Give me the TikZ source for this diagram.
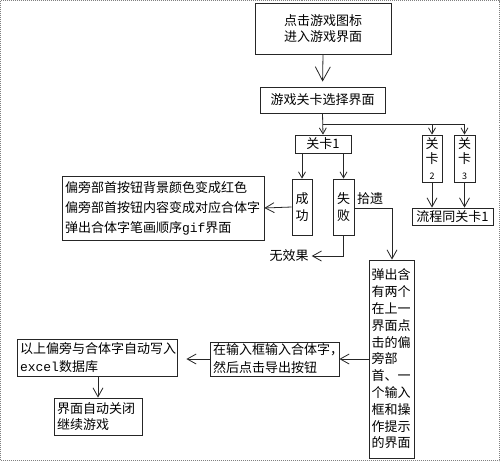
\documentclass[tikz,border=0pt]{standalone}
\usepackage{fontspec}
\setmainfont{Noto Sans CJK SC}
\newfontfamily\mono{Liberation Mono}
\usetikzlibrary{arrows.meta}
\begin{document}
\begin{tikzpicture}[x=1pt,y=-1pt,
  font=\fontsize{13}{16}\selectfont,
  ln/.style={draw=black!85,line width=0.8pt},
  box/.style={ln,inner sep=2pt,align=center},
  lbox/.style={ln,inner xsep=3pt,inner ysep=1pt,align=left},
  arr/.style={ln,-{Straight Barb[length=6pt,width=7pt]}},
  arrm/.style={ln,-{Straight Barb[length=9pt,width=10pt]}},
  arrb/.style={ln,-{Straight Barb[length=14pt,width=15pt]}}]
\useasboundingbox (0,0) rectangle (500,461);
\draw[gray,line width=0.8pt,dash pattern=on 1pt off 1pt] (0.5,0.5) rectangle (499.5,460.5);

\node[box,minimum width=136pt,minimum height=51pt] (b1) at (323,28.5) {点击游戏图标\\进入游戏界面};
\node[box,minimum width=125pt,minimum height=26pt] (b2) at (322.5,100) {游戏关卡选择界面};
\node[box,minimum width=56pt,minimum height=18pt,inner sep=0pt] (k1) at (323,144) {关卡1};
\node[box,minimum width=20pt,minimum height=47pt,inner sep=0pt,font=\fontsize{13}{15.5}\selectfont] (k2) at (432,158.5) {关\\卡\\{\fontsize{9}{10}\selectfont 2}};
\node[box,minimum width=21pt,minimum height=47pt,inner sep=0pt,font=\fontsize{13}{15.5}\selectfont] (k3) at (464.5,158.5) {关\\卡\\{\fontsize{9}{10}\selectfont 3}};
\node[box,minimum width=81pt,minimum height=17pt,inner sep=0pt] (lc) at (452.5,216.5) {流程同关卡1};
\node[box,minimum width=20pt,minimum height=56pt,inner sep=0pt,font=\fontsize{13}{17}\selectfont] (cg) at (302,207) {成\\功};
\node[box,minimum width=21pt,minimum height=56pt,inner sep=0pt,font=\fontsize{13}{17}\selectfont] (sb) at (343.5,207) {失\\败};
\node[lbox,text width=196pt,minimum height=64pt,font=\fontsize{13}{20}\selectfont] (lt) at (163,208) {偏旁部首按钮背景颜色变成红色\\偏旁部首按钮内容变成对应合体字\\弹出合体字笔画顺序{\mono gif}界面};
\node[inner sep=0pt] (wx) at (289,256) {无效果};
\node[inner sep=0pt] (sy) at (370,199) {拾遗};
\node[lbox,text width=41pt,minimum height=198pt,inner xsep=2pt,font=\fontsize{13}{16.8}\selectfont] (big) at (392,359) {弹出含\\有两个\\在上一\\界面点\\击的偏\\旁部\\首、一\\个输入\\框和操\\作提示\\的界面};
\node[lbox,text width=123pt,minimum height=34pt,font=\fontsize{13}{18}\selectfont] (mid) at (274.5,359) {在输入框输入合体字，\\然后点击导出按钮};
\node[lbox,text width=154pt,minimum height=37pt,font=\fontsize{13}{18}\selectfont] (lft) at (97,357.5) {以上偏旁与合体字自动写入\\{\mono excel}数据库};
\node[lbox,text width=82pt,minimum height=37pt,font=\fontsize{13}{16}\selectfont] (bot) at (98,416.5) {界面自动关闭\\继续游戏};

\coordinate (j0) at (323,124);
\coordinate (j3) at (464.5,124);
\coordinate (fy) at (392,208);
\coordinate (wy) at (343.5,256);

\draw[arrb,shorten >=5pt] (b1.south) -- (b2.north);
\draw[arr] (b2.south) -- (k1.north);
\draw[ln] (j0) -- (j3);
\draw[arr] (k2.north |- j0) -- (k2.north);
\draw[arr] (j3) -- (k3.north);
\draw[arrm] (k2.south) -- (k2.south |- lc.north);
\draw[arrm] (k3.south) -- (k3.south |- lc.north);
\draw[arr] (cg.north |- k1.south) -- (cg.north);
\draw[arr] (sb.north |- k1.south) -- (sb.north);
\draw[arrm] (cg.west) -- (lt.east);
\draw[arrm,shorten >=3pt] (sb.south) -- (wy) -- (wx.east);
\draw[arrm] (sb.east |- fy) -- (fy) -- (big.north);
\draw[arrm] (big.west) -- (mid.east);
\draw[arrm,shorten >=9pt] (mid.west) -- (mid.west -| lft.east);
\draw[arrm] (lft.south -| bot.north) -- (bot.north);
\end{tikzpicture}
\end{document}
